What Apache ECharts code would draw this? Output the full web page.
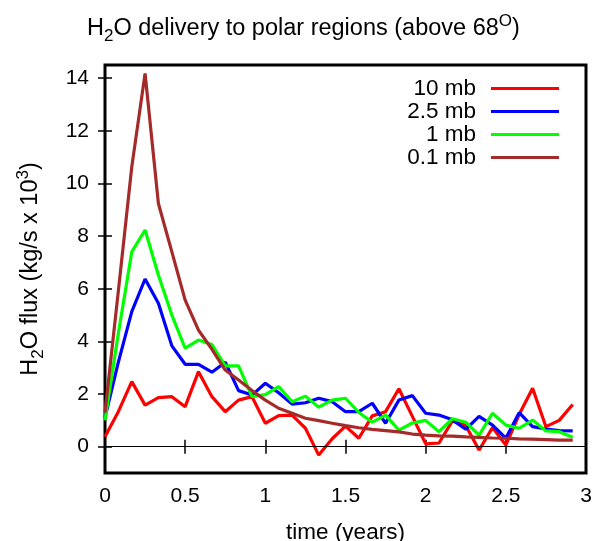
<!DOCTYPE html>
<html><head><meta charset="utf-8">
<script src="https://cdn.jsdelivr.net/npm/echarts@6/dist/echarts.min.js"></script>
<style>html,body{margin:0;padding:0;background:#fff}#c{width:600px;height:541px}</style>
</head><body><div id="c"></div>
<script>
const times = [0.000,0.083,0.167,0.250,0.333,0.417,0.500,0.583,0.667,0.750,0.833,0.917,
  1.000,1.083,1.167,1.250,1.333,1.417,1.500,1.583,1.667,1.750,1.833,1.917,
  2.000,2.083,2.167,2.250,2.333,2.417,2.500,2.583,2.667,2.750,2.833,2.917];
const flux10mb = [0.38,1.33,2.47,1.58,1.86,1.90,1.52,2.85,1.90,1.33,1.77,1.90,
  0.89,1.18,1.20,0.70,-0.32,0.30,0.78,0.32,1.17,1.33,2.20,1.15,
  0.11,0.14,0.98,0.80,-0.13,0.73,0.06,1.22,2.22,0.76,1.00,1.60];
const flux2p5mb = [1.10,3.20,5.13,6.37,5.45,3.83,3.13,3.13,2.83,3.21,2.13,1.96,
  2.41,2.05,1.62,1.67,1.84,1.71,1.33,1.33,1.65,0.89,1.77,1.94,
  1.27,1.20,1.02,0.66,1.15,0.82,0.32,1.29,0.76,0.67,0.61,0.60];
const flux1mb = [1.00,4.30,7.40,8.23,6.52,5.00,3.74,4.05,3.88,3.07,3.07,1.90,
  1.98,2.28,1.71,1.92,1.50,1.77,1.84,1.30,0.93,1.20,0.63,0.90,
  1.00,0.57,1.06,0.93,0.44,1.27,0.82,0.70,1.01,0.60,0.57,0.36];
const flux0p1mb = [1.30,5.90,10.63,14.18,9.24,7.40,5.57,4.43,3.70,2.91,2.53,2.13,
  1.77,1.46,1.27,1.08,0.99,0.89,0.80,0.72,0.66,0.61,0.56,0.48,
  0.44,0.41,0.40,0.37,0.35,0.33,0.32,0.30,0.29,0.27,0.25,0.25];
const seriesNames = ['10 mb','2.5 mb','1 mb','0.1 mb'];
const seriesColors = ['#ff0000','#0000ff','#00ff00','#a52a2a'];
const yTicks = [0,2,4,6,8,10,12,14];

const FONT = 'Liberation Sans, Arial, Helvetica, sans-serif';
const allSeries = [flux10mb, flux2p5mb, flux1mb, flux0p1mb];

const chart = echarts.init(document.getElementById('c'));
const series = allSeries.map((vals, k) => {
  const s = {
    name: seriesNames[k],
    type: 'line',
    symbol: 'none',
    showSymbol: false,
    color: seriesColors[k],
    itemStyle: {color: seriesColors[k]},
    lineStyle: {width: 3.2, color: seriesColors[k]},
    data: times.map((t, i) => [t, vals[i]]),
    animation: false,
    z: 3 + k
  };
  if (k === 0) {
    s.markLine = {
      silent: true, symbol: 'none', animation: false,
      label: {show: false},
      lineStyle: {color: '#000', width: 1, type: 'solid'},
      data: [{yAxis: 0}]
    };
  }
  return s;
});

function rich(size, small) {
  return {
    a: {fontSize: size, fontFamily: FONT, color: '#000', lineHeight: 32, fontWeight: 'normal'},
    s: {fontSize: small, fontFamily: FONT, color: '#000', lineHeight: 18, verticalAlign: 'bottom', fontWeight: 'normal'},
    p: {fontSize: small, fontFamily: FONT, color: '#000', lineHeight: 18, verticalAlign: 'top', fontWeight: 'normal'}
  };
}

chart.setOption({
  backgroundColor: '#fff',
  animation: false,
  title: {
    left: 82, top: 8,
    text: '{a|H}{s|2}{a|O delivery to polar regions (above 68}{p|O}{a|)}',
    textStyle: {fontWeight: 'normal', rich: rich(23.5, 17)}
  },
  grid: {left: 105, right: 14, top: 65, bottom: 68, show: true, borderColor: '#000', borderWidth: 3,
    backgroundColor: 'transparent', containLabel: false, outerBoundsMode: 'none'},
  legend: {
    data: seriesNames, orient: 'vertical', right: 41, top: 77, align: 'right',
    icon: 'rect', itemWidth: 68, itemHeight: 3, itemGap: 0, padding: 0,
    textStyle: {fontSize: 22.5, fontFamily: FONT, color: '#000', lineHeight: 23, padding: [0, 10, 0, 0]}
  },
  xAxis: [{
    type: 'value', min: 0, max: 3, interval: 0.5, position: 'bottom',
    axisLine: {show: false},
    axisTick: {show: true, inside: true, length: 7, lineStyle: {color: '#000', width: 1.5}},
    axisLabel: {fontSize: 21, fontFamily: FONT, color: '#000', margin: 13},
    splitLine: {show: false},
    name: 'time (years)', nameLocation: 'middle', nameGap: 48,
    nameTextStyle: {fontSize: 22.5, fontFamily: FONT, color: '#000'}
  }, {
    type: 'value', min: 0, max: 3, interval: 0.5, position: 'top',
    axisLine: {show: false},
    axisTick: {show: true, inside: true, length: 7, lineStyle: {color: '#000', width: 1.5}},
    axisLabel: {show: false}, splitLine: {show: false}
  }],
  yAxis: [{
    type: 'value', min: -1, max: 14.5, position: 'left',
    axisLine: {show: false},
    axisTick: {show: true, inside: true, length: 7, customValues: yTicks, lineStyle: {color: '#000', width: 1.5}},
    axisLabel: {fontSize: 21, fontFamily: FONT, color: '#000', margin: 16, customValues: yTicks},
    splitLine: {show: false},
    name: '{a|H}{s|2}{a|O flux (kg/s x 10}{p|3}{a|)}', nameLocation: 'middle', nameGap: 58, nameRotate: 90,
    nameTextStyle: {rich: rich(23.5, 17)}
  }, {
    type: 'value', min: -1, max: 14.5, position: 'right',
    axisLine: {show: false},
    axisTick: {show: true, inside: true, length: 7, customValues: yTicks, lineStyle: {color: '#000', width: 1.5}},
    axisLabel: {show: false}, splitLine: {show: false}
  }],
  series: series
});
</script></body></html>
